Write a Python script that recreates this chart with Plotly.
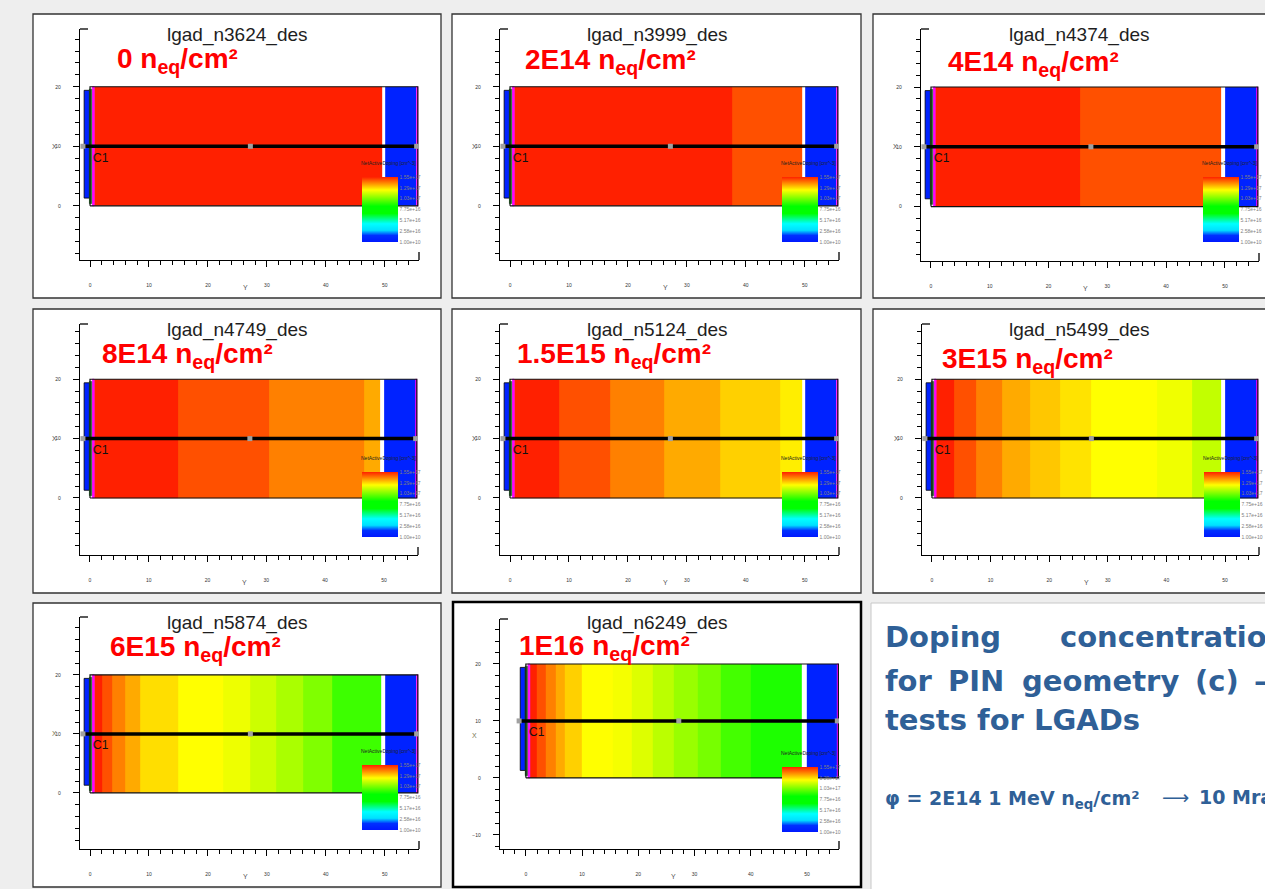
import plotly.graph_objects as go

W, H = 1265, 889

# ---------------- data ----------------
panel_titles = ["lgad_n3624_des", "lgad_n3999_des", "lgad_n4374_des", "lgad_n4749_des",
                "lgad_n5124_des", "lgad_n5499_des", "lgad_n5874_des", "lgad_n6249_des"]
fluence_labels = ["0", "2E14", "4E14", "8E14", "1.5E15", "3E15", "6E15", "1E16"]

# band edges along the device (Y, um) and normalised doping colour level of each band
band_edges = [
    [0.7, 49.5],
    [0.7, 37.6, 49.5],
    [0.7, 25.4, 49.4],
    [0.7, 15.0, 30.5, 46.6, 49.4],
    [0.7, 8.3, 16.9, 26.1, 35.7, 45.9, 49.5],
    [0.7, 3.8, 7.6, 12.0, 16.8, 21.9, 27.1, 38.4, 44.3, 49.4],
    [0.7, 2.0, 3.7, 5.9, 8.5, 15.0, 22.6, 27.1, 31.6, 36.2, 41.0, 49.3],
    [0.7, 2.0, 3.5, 5.3, 6.9, 9.9, 15.5, 18.9, 22.6, 26.4, 30.5, 34.7, 40.0, 49.1],
]
band_levels = [
    [1.0],
    [1.0, 0.957],
    [1.0, 0.957],
    [1.0, 0.957, 0.914, 0.876],
    [1.0, 0.957, 0.914, 0.876, 0.842, 0.815],
    [1.0, 0.957, 0.914, 0.876, 0.850, 0.825, 0.80, 0.785, 0.74],
    [1.0, 0.957, 0.914, 0.876, 0.83, 0.80, 0.783, 0.75, 0.717, 0.675, 0.61],
    [1.0, 0.957, 0.914, 0.876, 0.842, 0.80, 0.79, 0.767, 0.733, 0.70, 0.667, 0.617, 0.578],
]
gap_end = 50.0          # end of the undepleted gap (white)
bulk_end = 55.4         # end of back (blue) region
device_len = 55.6
device_h = 20.0
back_level = 0.04
contact_blue = ([-1.0, -0.1], [1.3, 19.4])
contact_green = ([-0.1, 0.4], [0.4, 19.6])
contact_magenta = ([0.4, 0.7], [0.0, 20.0])
back_magenta = ([55.4, 55.6], [0.0, 20.0])
cut_x = [-1.2, 27.2, 55.4]
cut_y = [10, 10, 10]

x_ticks = [0, 10, 20, 30, 40, 50]
y_ticks = [-10, 0, 10, 20]
cbar_tickvals = [1.0, 5 / 6, 4 / 6, 3 / 6, 2 / 6, 1 / 6, 0.0]
cbar_ticktext = ["1.55e+17", "1.29e+17", "1.03e+17", "7.75e+16", "5.17e+16", "2.58e+16", "1.00e+10"]

colorscale = [[0.0, "#0018ff"], [0.10, "#0030ff"], [0.18, "#00e0ff"], [0.28, "#00ffff"],
              [0.44, "#00ff00"], [0.55, "#00ff00"], [0.80, "#ffff00"], [1.0, "#ff2000"]]

# ---------------- layout geometry (pixels) ----------------
frames = [(80, 419, 29, 260), (500, 839, 29, 260), (921, 1259, 29, 261),
          (80, 418, 324, 555), (500, 839, 324, 555), (922, 1259, 324, 555),
          (80, 419, 617, 849), (500, 839, 619, 849)]
xranges = [(-1.7, 55.8)] * 7 + [(-4.6, 55.7)]
yranges = [(-9.1, 29.7)] * 3 + [(-9.6, 29.3)] * 3 + [(-9.5, 29.8), (-12.5, 27.9)]
boxes = [(33, 441, 14, 298), (452, 861, 14, 298), (873, 1280, 14, 298),
         (33, 441, 309, 593), (452, 861, 309, 593), (873, 1280, 309, 593),
         (33, 441, 603, 887), (453, 861, 602, 887)]
title_pos = [(237, 35), (657, 35), (1079, 35), (237, 330), (657, 330), (1079, 330), (237, 623), (657, 623)]
label_pos = [(115, 60.6), (523, 61.9), (946, 63.6), (100, 355.6), (515, 355.6), (940, 360.6),
             (108, 648.6), (517, 647.6)]


def px(x):
    return x / W


def py(y):
    return 1 - y / H


fig = go.Figure()
shapes = []
annotations = []

# panel boxes
for i, (x0, x1, y0, y1) in enumerate(boxes):
    shapes.append(dict(type="rect", xref="paper", yref="paper", x0=px(x0), x1=px(x1), y0=py(y1), y1=py(y0),
                       fillcolor="white", line=dict(color="#000000" if i == 7 else "#333333",
                                                    width=2.5 if i == 7 else 1.3), layer="below"))
# text box
shapes.append(dict(type="rect", xref="paper", yref="paper", x0=px(871), x1=px(1280), y0=py(900), y1=py(603),
                   fillcolor="white", line=dict(color="#c8c8c8", width=1), layer="below"))


def rect_xy(xs, ys):
    return [xs[0], xs[1], xs[1], xs[0], xs[0]], [ys[0], ys[0], ys[1], ys[1], ys[0]]


for i in range(8):
    n = i + 1
    xa = "x" if n == 1 else f"x{n}"
    ya = "y" if n == 1 else f"y{n}"
    L, R, T, B = frames[i]
    edges = band_edges[i] + [gap_end, bulk_end]
    z = [band_levels[i] + [None, back_level]]
    fig.add_trace(go.Heatmap(
        x=edges, y=[0, device_h], z=z, xaxis=xa, yaxis=ya, colorscale=colorscale, zmin=0, zmax=1,
        hoverinfo="skip", showscale=True,
        colorbar=dict(x=px(L + 282), xanchor="left", xpad=0, y=py(T + 148), yanchor="top", ypad=0,
                      len=65, lenmode="pixels", thickness=36, thicknessmode="pixels", outlinewidth=0,
                      tickvals=cbar_tickvals, ticktext=cbar_ticktext, ticks="",
                      tickfont=dict(size=5, color="#808080", family="Liberation Sans"))))
    # contacts
    for (geo, col) in [(contact_blue, "#0022ff"), (contact_green, "#2a8a2a"),
                       (contact_magenta, "#ff00ff"), (back_magenta, "#ff00ff")]:
        rx, ry = rect_xy(*geo)
        fig.add_trace(go.Scatter(x=rx, y=ry, xaxis=xa, yaxis=ya, mode="lines", fill="toself",
                                 fillcolor=col, line=dict(color="#000000" if col == "#0022ff" else col, width=0.8),
                                 hoverinfo="skip", showlegend=False))
    # device outline
    ox, oy = rect_xy([0, device_len], [0, device_h])
    fig.add_trace(go.Scatter(x=ox, y=oy, xaxis=xa, yaxis=ya, mode="lines",
                             line=dict(color="#111111", width=1.2), hoverinfo="skip", showlegend=False))
    # cut line
    fig.add_trace(go.Scatter(x=cut_x, y=cut_y, xaxis=xa, yaxis=ya, mode="lines+markers",
                             line=dict(color="#000000", width=3.5),
                             marker=dict(symbol="square", size=5, color="#a0a0a0"),
                             hoverinfo="skip", showlegend=False))

    axis_common = dict(showline=True, linecolor="#000000", linewidth=1.3, ticks="outside", ticklen=6,
                       tickcolor="#000000", tickwidth=1, showgrid=False, zeroline=False,
                       tickfont=dict(size=5, color="#333333", family="Liberation Sans"))
    fig.layout[("xaxis" if n == 1 else f"xaxis{n}")] = dict(
        domain=[px(L), px(R)], range=list(xranges[i]), anchor=ya, tickvals=x_ticks,
        minor=dict(dtick=2, tick0=0, ticks="outside", ticklen=4, tickcolor="#000000"),
        ticklabelstandoff=14, **axis_common)
    fig.layout[("yaxis" if n == 1 else f"yaxis{n}")] = dict(
        domain=[py(B), py(T)], range=list(yranges[i]), anchor=xa, tickvals=y_ticks,
        minor=dict(dtick=2, tick0=0, ticks="outside", ticklen=4, tickcolor="#000000"),
        ticklabelstandoff=11, **axis_common)

    # axis end brackets
    shapes.append(dict(type="line", xref=f"{xa} domain", yref=f"{ya} domain", x0=0, x1=8 / (R - L),
                       y0=1, y1=1, line=dict(color="#000000", width=1.3)))
    shapes.append(dict(type="line", xref=f"{xa} domain", yref=f"{ya} domain", x0=1, x1=1,
                       y0=0, y1=8 / (B - T), line=dict(color="#000000", width=1.3)))

    # texts
    tx, ty = title_pos[i]
    annotations.append(dict(xref="paper", yref="paper", x=px(tx), y=py(ty), text=panel_titles[i],
                            showarrow=False, xanchor="center", yanchor="middle",
                            font=dict(size=19, color="#1e1e1e", family="Liberation Sans, Arial")))
    lx, ly = label_pos[i]
    annotations.append(dict(xref="paper", yref="paper", x=px(lx), y=py(ly),
                            text=f"<b>{fluence_labels[i]} n<sub>eq</sub>/cm²</b>",
                            showarrow=False, xanchor="left", yanchor="middle",
                            font=dict(size=28, color="#ff0000", family="Liberation Sans, Arial")))
    annotations.append(dict(xref=xa, yref=ya, x=0.2, y=9.6, text="C1", showarrow=False,
                            xanchor="left", yanchor="top",
                            font=dict(size=12, color="#111111", family="Liberation Sans, Arial")))
    annotations.append(dict(xref="paper", yref=ya, x=px(L - 26), y=7.4 if n == 8 else 10, text="X",
                            showarrow=False, xanchor="center", yanchor="middle",
                            font=dict(size=7, color="#777755" if n >= 7 else "#555555", family="Liberation Sans")))
    annotations.append(dict(xref=xa, yref="paper", x=26.3, y=py(B + 27), text="Y", showarrow=False,
                            xanchor="center", yanchor="middle",
                            font=dict(size=7, color="#555555", family="Liberation Sans")))
    annotations.append(dict(xref="paper", yref="paper", x=px(L + 308), y=py(T + 134),
                            text="NetActiveDoping [cm^-3]", showarrow=False,
                            xanchor="center", yanchor="middle",
                            font=dict(size=5, color="#222222", family="Liberation Sans")))

# ---------------- side text ----------------
BLUE = "#2f6097"
TEXT_FONT = "DejaVu Sans, Verdana"
text_lines = [
    (["Doping", "concentration"], [883, 1058], 637),
    (["for", "PIN", "geometry", "(c)", "–"], [883, 946, 1020, 1193, 1252], 681),
    (["tests for LGADs"], [883], 720),
]
for words, xs, yc in text_lines:
    for w, x in zip(words, xs):
        annotations.append(dict(xref="paper", yref="paper", x=px(x), y=py(yc), text=f"<b>{w}</b>",
                                showarrow=False, xanchor="left", yanchor="middle",
                                font=dict(size=29, color=BLUE, family=TEXT_FONT)))
# fluence-to-dose note, split so the arrow gap matches the slide
annotations.append(dict(xref="paper", yref="paper", x=px(883), y=py(799),
                        text="<b>φ = 2E14 1 MeV n<sub>eq</sub>/cm²</b>",
                        showarrow=False, xanchor="left", yanchor="middle",
                        font=dict(size=19, color=BLUE, family=TEXT_FONT)))
annotations.append(dict(xref="paper", yref="paper", x=px(1160), y=py(797), text="⟶",
                        showarrow=False, xanchor="left", yanchor="middle",
                        font=dict(size=19, color=BLUE, family="DejaVu Sans")))
annotations.append(dict(xref="paper", yref="paper", x=px(1197), y=py(797), text="<b>10 Mrad</b>",
                        showarrow=False, xanchor="left", yanchor="middle",
                        font=dict(size=19, color=BLUE, family=TEXT_FONT)))

fig.update_layout(width=W, height=H, margin=dict(l=0, r=0, t=0, b=0), autosize=False,
                  paper_bgcolor="#eeeeee", plot_bgcolor="white", showlegend=False,
                  shapes=shapes, annotations=annotations)

fig.write_html("out.html", config={"displayModeBar": False},
               post_script="document.body.style.margin='0px';document.body.style.overflow='hidden';")
